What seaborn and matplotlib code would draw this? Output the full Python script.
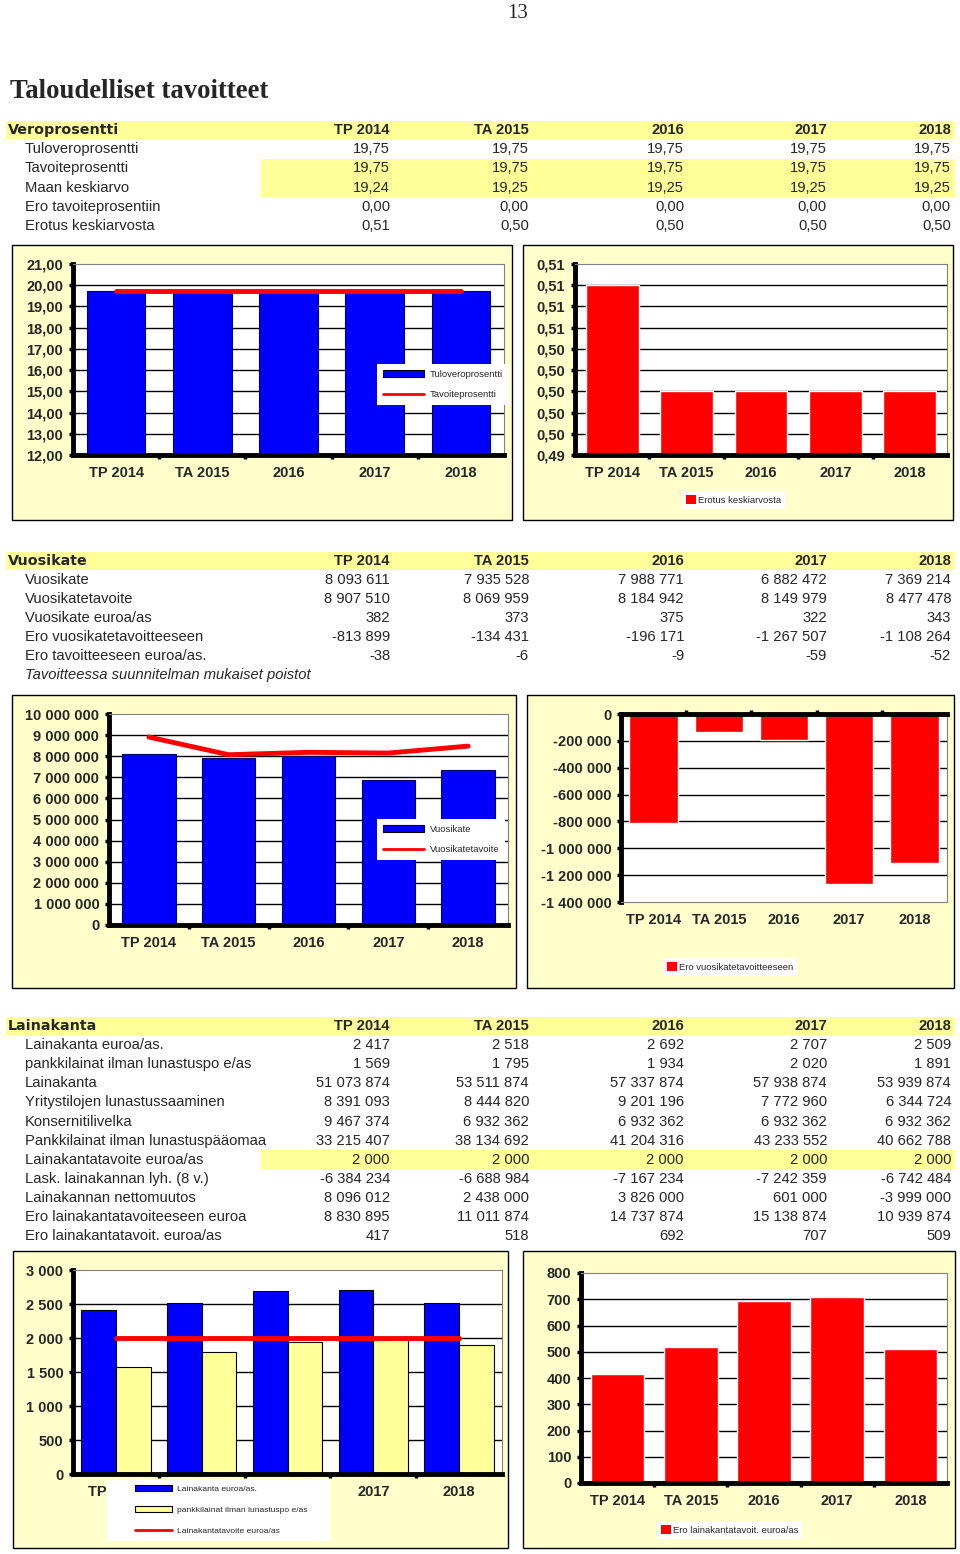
import numpy as np
import pandas as pd
import matplotlib
matplotlib.use("Agg")
import matplotlib.pyplot as plt
from matplotlib.patches import Rectangle, Patch
from matplotlib.lines import Line2D
import seaborn as sns

# ===========================
# Data (read from the page)
# ===========================
years = ["TP 2014", "TA 2015", "2016", "2017", "2018"]

# Veroprosentti
tuloveroprosentti = [19.75, 19.75, 19.75, 19.75, 19.75]
tavoiteprosentti = [19.75, 19.75, 19.75, 19.75, 19.75]
maan_keskiarvo = [19.24, 19.25, 19.25, 19.25, 19.25]
ero_tavoiteprosentiin = [0.00, 0.00, 0.00, 0.00, 0.00]
erotus_keskiarvosta = [0.51, 0.50, 0.50, 0.50, 0.50]

# Vuosikate
vuosikate = [8093611, 7935528, 7988771, 6882472, 7369214]
vuosikatetavoite = [8907510, 8069959, 8184942, 8149979, 8477478]
vuosikate_as = [382, 373, 375, 322, 343]
ero_vuosikatetavoitteeseen = [-813899, -134431, -196171, -1267507, -1108264]
ero_tavoitteeseen_as = [-38, -6, -9, -59, -52]

# Lainakanta
lainakanta_as = [2417, 2518, 2692, 2707, 2509]
pankkilainat_as = [1569, 1795, 1934, 2020, 1891]
lainakanta = [51073874, 53511874, 57337874, 57938874, 53939874]
yritystilojen_lunastus = [8391093, 8444820, 9201196, 7772960, 6344724]
konsernitilivelka = [9467374, 6932362, 6932362, 6932362, 6932362]
pankkilainat = [33215407, 38134692, 41204316, 43233552, 40662788]
lainakantatavoite_as = [2000, 2000, 2000, 2000, 2000]
lask_lyhennys = [-6384234, -6688984, -7167234, -7242359, -6742484]
nettomuutos = [8096012, 2438000, 3826000, 601000, -3999000]
ero_lainakantatavoite = [8830895, 11011874, 14737874, 15138874, 10939874]
ero_lainakantatavoite_as = [417, 518, 692, 707, 509]

BLUE = "#0000FF"
RED = "#FF0000"
PALE = "#FFFF99"
FRAME = "#FFFFCC"

W, H = 960, 1554
FS = 10.6  # table font size

sns.set_style("white")
plt.rcParams["font.family"] = ["Liberation Sans", "DejaVu Sans"]

fig = plt.figure(figsize=(W / 100, H / 100), dpi=100)


def fx(x):
    return x / W


def fy(y):
    return 1 - y / H


def fi(v, dec=0):
    s = f"{abs(v):,.{dec}f}".replace(",", " ").replace(".", ",")
    return ("-" if v < 0 else "") + s


def band(l, t, r, b, color=PALE):
    fig.patches.append(Rectangle((fx(l), fy(b)), (r - l) / W, (b - t) / H,
                                 transform=fig.transFigure, facecolor=color,
                                 edgecolor="none", zorder=-2))


def frame(l, t, r, b):
    fig.patches.append(Rectangle((fx(l), fy(b)), (r - l) / W, (b - t) / H,
                                 transform=fig.transFigure, facecolor=FRAME,
                                 edgecolor="black", lw=1, zorder=-1))


def axes_px(l, t, r, b):
    return fig.add_axes([fx(l), fy(b), (r - l) / W, (b - t) / H])


# ===========================
# Tables
# ===========================
COLS = [390, 529, 684, 827, 951]


def table(title, y0, rows, step=19.1, italic_note=None):
    band(6, y0 - 9, 955, y0 + 9)
    fig.text(fx(8), fy(y0), title, fontsize=FS - 0.3, fontweight="bold",
             family="DejaVu Sans", va="center", ha="left")
    for x, yr in zip(COLS, years):
        fig.text(fx(x), fy(y0), yr, fontsize=FS, fontweight="bold",
                 va="center", ha="right")
    for i, (label, vals, dec) in enumerate(rows):
        y = y0 + step * (i + 1)
        fig.text(fx(25), fy(y), label, fontsize=FS, va="center", ha="left")
        for x, v in zip(COLS, vals):
            fig.text(fx(x), fy(y), fi(v, dec), fontsize=FS, va="center",
                     ha="right")
    if italic_note:
        y = y0 + step * (len(rows) + 1)
        fig.text(fx(25), fy(y), italic_note, fontsize=FS, style="italic",
                 va="center", ha="left")


fig.text(fx(518), fy(14), "13", fontsize=15, family="Liberation Serif",
         ha="center", va="center")
fig.text(fx(10), fy(92), "Taloudelliset tavoitteet", fontsize=19.3,
         family="Liberation Serif", fontweight="bold", ha="left", va="center")

band(261, 159, 955, 197)
table("Veroprosentti", 130, [
    ("Tuloveroprosentti", tuloveroprosentti, 2),
    ("Tavoiteprosentti", tavoiteprosentti, 2),
    ("Maan keskiarvo", maan_keskiarvo, 2),
    ("Ero tavoiteprosentiin", ero_tavoiteprosentiin, 2),
    ("Erotus keskiarvosta", erotus_keskiarvosta, 2),
], step=19.2)

table("Vuosikate", 561, [
    ("Vuosikate", vuosikate, 0),
    ("Vuosikatetavoite", vuosikatetavoite, 0),
    ("Vuosikate euroa/as", vuosikate_as, 0),
    ("Ero vuosikatetavoitteeseen", ero_vuosikatetavoitteeseen, 0),
    ("Ero tavoitteeseen euroa/as.", ero_tavoitteeseen_as, 0),
], step=19.0, italic_note="Tavoitteessa suunnitelman mukaiset poistot")

band(261, 1150, 955, 1169)
table("Lainakanta", 1026, [
    ("Lainakanta euroa/as.", lainakanta_as, 0),
    ("pankkilainat ilman lunastuspo e/as", pankkilainat_as, 0),
    ("Lainakanta", lainakanta, 0),
    ("Yritystilojen lunastussaaminen", yritystilojen_lunastus, 0),
    ("Konsernitilivelka", konsernitilivelka, 0),
    ("Pankkilainat ilman lunastuspääomaa", pankkilainat, 0),
    ("Lainakantatavoite euroa/as", lainakantatavoite_as, 0),
    ("Lask. lainakannan lyh. (8 v.)", lask_lyhennys, 0),
    ("Lainakannan nettomuutos", nettomuutos, 0),
    ("Ero lainakantatavoiteeseen euroa", ero_lainakantatavoite, 0),
    ("Ero lainakantatavoit. euroa/as", ero_lainakantatavoite_as, 0),
], step=19.1)


# ===========================
# Charts
# ===========================
def style(ax, ticks, dec=0, zero_top=False):
    ax.set_facecolor("white")
    ax.set_xlim(-0.5, len(years) - 0.5)
    ax.set_ylim(ticks[0], ticks[-1])
    ax.set_yticks(ticks)
    ax.set_yticklabels([fi(t, dec) for t in ticks])
    ax.set_xlabel("")
    ax.set_ylabel("")
    ax.yaxis.grid(True, color="black", lw=1)
    ax.xaxis.grid(False)
    ax.set_axisbelow(True)
    gl = ax.get_ygridlines()
    gl[-1].set_visible(False)
    gl[0].set_visible(False)
    for s in ["top", "right", "bottom"]:
        ax.spines[s].set(color="#808080", lw=0.8, visible=True)
    ax.spines["left"].set(color="black", lw=3.5)
    if zero_top:
        ax.spines["top"].set(color="black", lw=3.5)
    else:
        ax.spines["bottom"].set(color="black", lw=3.5)
    ax.tick_params(axis="y", length=3, width=2.5, color="black",
                   direction="out", left=True, labelsize=10.5, pad=4)
    ax.tick_params(axis="x", which="major", length=0, labelsize=10.5, pad=8)
    ax.set_xticks([i + 0.5 for i in range(len(years) - 1)], minor=True)
    ax.tick_params(axis="x", which="minor", length=3, width=2.5,
                   color="black", bottom=not zero_top, top=zero_top)
    for lab in ax.get_xticklabels() + ax.get_yticklabels():
        lab.set_fontweight("bold")


def legend(ax, handles, labels, x, y, fs=6.8, hl=4.4, hh=0.7, ls=1.25,
           frameon=True, borderpad=0.6, tpad=0.6):
    leg = ax.legend(handles, labels, loc="upper left",
                    bbox_to_anchor=(fx(x), fy(y)), bbox_transform=fig.transFigure,
                    borderaxespad=0, fontsize=fs, handlelength=hl,
                    handleheight=hh, labelspacing=ls, handletextpad=tpad,
                    borderpad=borderpad, frameon=frameon, fancybox=False,
                    facecolor="white", edgecolor="none", framealpha=1)
    leg.set_zorder(10)
    return leg


bar_patch_blue = Patch(facecolor=BLUE, edgecolor="black", lw=0.8)
bar_patch_pale = Patch(facecolor=PALE, edgecolor="black", lw=0.8)
bar_patch_red = Patch(facecolor=RED, edgecolor="none")
red_line = Line2D([], [], color=RED, lw=2)

# --- 1. Tuloveroprosentti / Tavoiteprosentti
frame(12, 245, 512, 520)
ax1 = axes_px(73, 264, 504, 455)
sns.barplot(x=years, y=tuloveroprosentti, ax=ax1, color=BLUE, saturation=1,
            width=0.68, edgecolor="#000060", linewidth=0.8)
sns.lineplot(x=years, y=tavoiteprosentti, ax=ax1, color=RED, lw=3.5,
             sort=False, legend=False)
style(ax1, list(range(12, 22)), dec=2)
legend(ax1, [bar_patch_blue, red_line], ["Tuloveroprosentti", "Tavoiteprosentti"],
       377, 364)

# --- 2. Erotus keskiarvosta
frame(523, 245, 953, 520)
ax2 = axes_px(575, 264, 947, 455)
sns.barplot(x=years, y=erotus_keskiarvosta, ax=ax2, color=RED, saturation=1,
            width=0.71)
style(ax2, list(np.linspace(0.494, 0.512, 10)), dec=2)
legend(ax2, [bar_patch_red], ["Erotus keskiarvosta"], 682, 491,
       hl=1.0, hh=1.0, borderpad=0.45, tpad=0.2)

# --- 3. Vuosikate / Vuosikatetavoite
frame(12, 695, 516, 988)
ax3 = axes_px(109, 714, 508, 925)
sns.barplot(x=years, y=vuosikate, ax=ax3, color=BLUE, saturation=1,
            width=0.67, edgecolor="#000060", linewidth=0.8)
sns.lineplot(x=years, y=vuosikatetavoite, ax=ax3, color=RED, lw=3.5,
             sort=False, legend=False)
style(ax3, list(range(0, 10000001, 1000000)))
legend(ax3, [bar_patch_blue, red_line], ["Vuosikate", "Vuosikatetavoite"],
       377, 819)

# --- 4. Ero vuosikatetavoitteeseen
frame(527, 695, 954, 988)
ax4 = axes_px(621, 714, 947, 902)
sns.barplot(x=years, y=ero_vuosikatetavoitteeseen, ax=ax4, color=RED,
            saturation=1, width=0.74)
style(ax4, list(range(-1400000, 1, 200000)), zero_top=True)
legend(ax4, [bar_patch_red], ["Ero vuosikatetavoitteeseen"], 663, 958,
       hl=1.0, hh=1.0, borderpad=0.45, tpad=0.2)

# --- 5. Lainakanta euroa/as
frame(13, 1251, 508, 1548)
ax5 = axes_px(73, 1270, 502, 1474)
series5 = ["Lainakanta euroa/as.", "pankkilainat ilman lunastuspo e/as"]
df5 = pd.DataFrame({
    "vuosi": years * 2,
    "arvo": lainakanta_as + pankkilainat_as,
    "sarja": [series5[0]] * len(years) + [series5[1]] * len(years),
})
sns.barplot(data=df5, x="vuosi", y="arvo", hue="sarja", ax=ax5,
            palette=[BLUE, PALE], saturation=1, width=0.81,
            edgecolor="black", linewidth=0.8, legend=False)
sns.lineplot(x=years, y=lainakantatavoite_as, ax=ax5, color=RED, lw=3.5,
             sort=False, legend=False)
style(ax5, list(range(0, 3001, 500)))
# the legend box hides the middle category labels, as on the page
ax5.set_xticks(range(len(years)))
ax5.set_xticklabels([years[0], "", "", years[3], years[4]], fontweight="bold")
ax5.add_patch(Rectangle((fx(107), fy(1541)), 223 / W, 61 / H,
                        transform=fig.transFigure, facecolor="white",
                        edgecolor="none", clip_on=False, zorder=9))
legend(ax5, [bar_patch_blue, bar_patch_pale, red_line],
       series5 + ["Lainakantatavoite euroa/as"], 135, 1485,
       fs=6.1, hl=4.4, ls=1.55, frameon=False, borderpad=0, tpad=0.5)

# --- 6. Ero lainakantatavoit. euroa/as
frame(523, 1251, 955, 1548)
ax6 = axes_px(581, 1273, 947, 1483)
sns.barplot(x=years, y=ero_lainakantatavoite_as, ax=ax6, color=RED,
            saturation=1, width=0.73)
style(ax6, list(range(0, 801, 100)))
legend(ax6, [bar_patch_red], ["Ero lainakantatavoit. euroa/as"], 657, 1521,
       hl=1.0, hh=1.0, borderpad=0.45, tpad=0.2)

fig.savefig("out.png", dpi=100, facecolor="white")
